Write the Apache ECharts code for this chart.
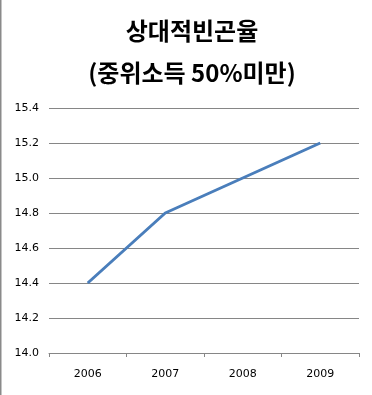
<!DOCTYPE html>
<html><head><meta charset="utf-8">
<script src="https://cdn.jsdelivr.net/npm/echarts@6/dist/echarts.min.js"></script>
<style>html,body{margin:0;padding:0;background:#fff}#c{width:372px;height:395px}</style>
</head><body><div id="c"></div>
<script>
var categories = ['2006', '2007', '2008', '2009'];
var values = [14.4, 14.8, 15.0, 15.2];
var titleLines = ['상대적빈곤율', '(중위소득 50%미만)'];

var chart = echarts.init(document.getElementById('c'), null, {renderer: 'canvas'});
chart.setOption({
  backgroundColor: '#fff',
  animation: false,
  title: {
    text: titleLines.join('\n'),
    left: 187, top: 5, textAlign: 'center',
    textStyle: {fontFamily: 'Noto Sans CJK KR', fontWeight: 'bold', fontSize: 24, lineHeight: 42, color: '#000'}
  },
  graphic: [{type: 'line', shape: {x1: 0.5, y1: 0, x2: 0.5, y2: 395}, style: {stroke: '#8a8a8a', lineWidth: 2}}],
  grid: {left: 49, right: 13, top: 108, bottom: 42},
  xAxis: {
    type: 'category', data: categories, boundaryGap: true,
    axisLine: {lineStyle: {color: '#868686', width: 1}},
    axisTick: {show: true, length: 4, inside: false, lineStyle: {color: '#868686'}},
    axisLabel: {color: '#000', fontSize: 11, fontFamily: 'DejaVu Sans', margin: 16}
  },
  yAxis: {
    type: 'value', min: 14.0, max: 15.4, interval: 0.2,
    axisLine: {show: false}, axisTick: {show: false},
    splitLine: {lineStyle: {color: '#868686', width: 1}},
    axisLabel: {color: '#000', fontSize: 11, fontFamily: 'DejaVu Sans', margin: 10,
      formatter: function (v) { return v.toFixed(1); }}
  },
  series: [{
    type: 'line', data: values, symbol: 'none',
    lineStyle: {color: '#4A7EBB', width: 3}
  }]
});
</script></body></html>
